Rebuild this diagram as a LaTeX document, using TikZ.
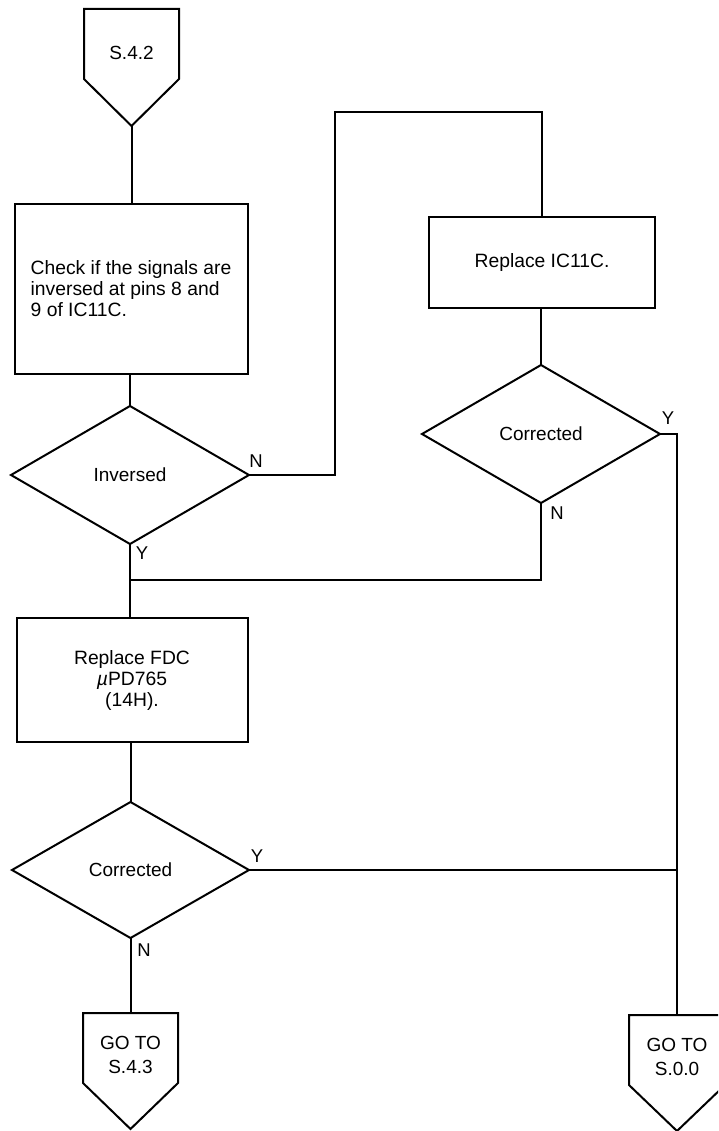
\documentclass[tikz,border=0pt]{standalone}
\usepackage{fontspec}
\setmainfont{Liberation Sans}
\usetikzlibrary{shapes.geometric,calc}
\tikzset{
  conn/.style={line width=2pt, line join=miter, line cap=rect},
  procbox/.style={draw, rectangle, line width=2pt, inner sep=0pt, outer sep=0pt, align=center, font=\fontsize{19.3}{21}\selectfont},
  decision/.style={draw, diamond, line width=2pt, inner sep=0pt, outer sep=0pt, font=\fontsize{19}{21}\selectfont},
  offbox/.style={rectangle, inner sep=0pt, outer sep=0pt, minimum width=95pt, minimum height=70pt},
  offtext/.style={align=center, inner sep=0pt, font=\fontsize{19}{24}\selectfont},
  lbl/.style={inner sep=0pt, font=\fontsize{18.5}{20}\selectfont}
}
\begin{document}
\begin{tikzpicture}[x=1pt,y=-1pt]
\useasboundingbox (0,0) rectangle (718,1131);
\clip (0,0) rectangle (718,1131);

% off-page connector at top
\node[offbox] (s42) at (131.5,44) {};
\draw[conn] (s42.north west) -- (s42.north east) -- (s42.south east) -- (131.5,126) coordinate (s42tip) -- (s42.south west) -- cycle;
\node[offtext] (s42t) at (131.5,53) {S.4.2};

% process boxes
\node[procbox, minimum width=233pt, minimum height=170pt, align=left] (check) at (131,289)
  {Check if the signals are\\inversed at pins 8 and\\9 of IC11C.};
\node[procbox, minimum width=226pt, minimum height=91pt] (ic) at (542,262.5) {Replace IC11C.};
\node[procbox, minimum width=231pt, minimum height=124pt] (fdc) at (132,680)
  {Replace FDC\\{\itshape µ}PD765\\(14H).};

% decisions
\node[decision, minimum width=238pt, minimum height=138pt] (inv) at (130,475) {Inversed};
\node[decision, minimum width=238pt, minimum height=138pt] (cor1) at (541,434) {Corrected};
\node[decision, minimum width=237pt, minimum height=136pt] (cor2) at (130.5,870) {Corrected};

% off-page connectors at bottom
\node[offbox] (s43) at (130.5,1048) {};
\draw[conn] (s43.north west) -- (s43.north east) -- (s43.south east) -- (130.5,1129) coordinate (s43tip) -- (s43.south west) -- cycle;
\node[offtext] (s43t) at (130.5,1055) {GO TO\\S.4.3};

\node[offbox, minimum width=96pt] (s00) at (677,1050) {};
\draw[conn] (s00.north west) -- (s00.north east) -- (s00.south east) -- (677,1131) coordinate (s00tip) -- (s00.south west) -- cycle;
\node[offtext] (s00t) at (677,1057) {GO TO\\S.0.0};

% junction coordinates
\coordinate (up1) at (335,475);
\coordinate (up2) at (335,112);
\coordinate (up3) at (542,112);
\coordinate (rj1) at (677,434);
\coordinate (rj2) at (677,870);
\coordinate (nj1) at (541,580);
\coordinate (nj2) at (131,580);

% connectors
\draw[conn] (s42tip) -- (s42tip |- check.north);
\draw[conn] (check.south -| inv.north) -- (inv.north);
\draw[conn] (inv.east) -- (up1) -- (up2) -- (up3) -- (ic.north);
\draw[conn] (ic.south) -- (ic.south -| cor1.north) -- (cor1.north);
\draw[conn] (cor1.east) -- (rj1) -- (rj2) -- (s00.north);
\draw[conn] (cor1.south) -- (nj1) -- (nj2);
\draw[conn] (inv.south) -- (inv.south |- fdc.north);
\draw[conn] (fdc.south -| cor2.north) -- (cor2.north);
\draw[conn] (cor2.east) -- (rj2);
\draw[conn] (cor2.south) -- (cor2.south |- s43.north);

% labels
\node[lbl] (lN1) at (256,461) {N};
\node[lbl] (lY1) at (142,553) {Y};
\node[lbl] (lY2) at (668,418) {Y};
\node[lbl] (lN2) at (557,513) {N};
\node[lbl] (lY3) at (257,856) {Y};
\node[lbl] (lN3) at (144,950) {N};
\end{tikzpicture}
\end{document}
